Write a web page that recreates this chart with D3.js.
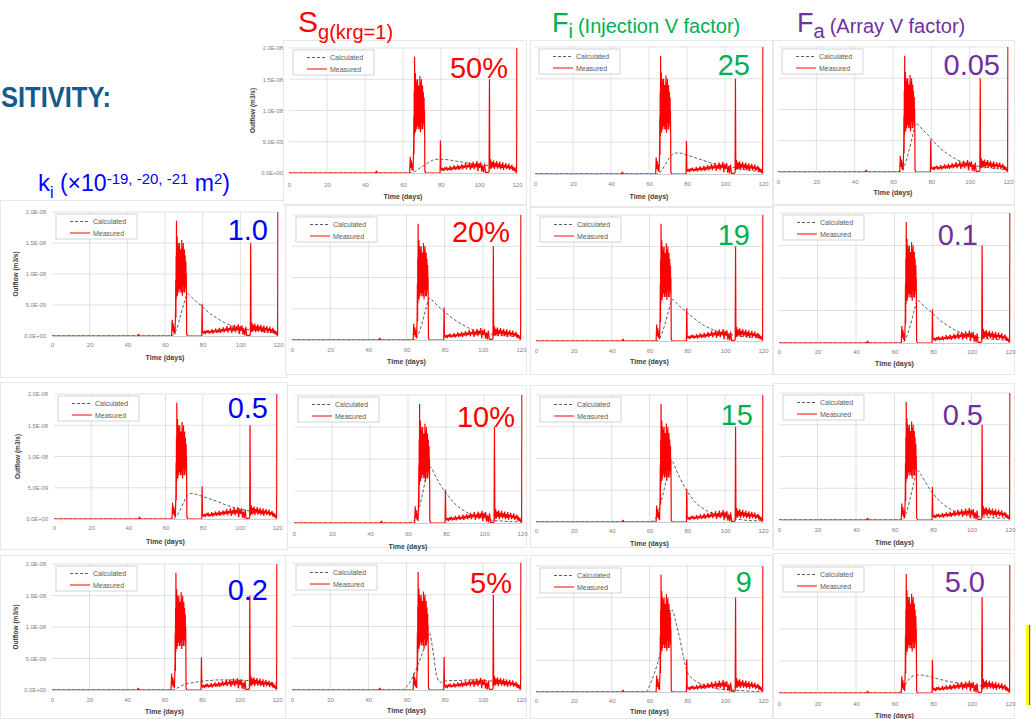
<!DOCTYPE html>
<html><head><meta charset="utf-8">
<script src="https://cdn.jsdelivr.net/npm/d3@7"></script>
<style>body{margin:0;background:#fff}svg{display:block;font-family:"Liberation Sans",Arial,sans-serif}</style>
</head><body><svg id="c" width="1032" height="719"></svg>
<script>
// ---------- DATA (flow in units of 1e-9 m3/s, time in days) ----------
const xTickValues = [0, 20, 40, 60, 80, 100, 120];
const xTickLabels = ["0", "20", "40", "60", "80", "100", "120"];
const yTickValues = [0, 5, 10, 15, 20];
const yTickLabels = ["0.0E+00", "5.0E-09", "1.0E-08", "1.5E-08", "2.0E-08"];
const seriesNames = ["Calculated", "Measured"];

const kiLabels = ["1.0", "0.5", "0.2"];
const sgLabels = ["50%", "20%", "10%", "5%"];
const fiLabels = ["25", "19", "15", "9"];
const faLabels = ["0.05", "0.1", "0.5", "5.0"];

const measured = [
 [0,0],[45.5,0],[46,0.3],[46.5,0],[63.5,0],[63.8,2.6],[64.1,0.8],[64.4,2.0],[64.7,0.5],[65.0,1.5],[65.3,0.3],
 [65.6,4],[65.7,9],[65.8,3],[65.9,13],[66.0,6],[66.1,18.6],[66.2,7],[66.3,14],[66.4,8],[66.5,16],[66.6,6.5],
 [66.7,13],[66.8,9],[66.9,15],[67.0,7],[67.1,12.5],[67.2,8],[67.3,14.5],[67.4,7.5],[67.5,13],[67.6,9.5],
 [67.7,15],[67.8,8],[67.9,12],[68.0,7],[68.1,14],[68.2,9],[68.3,13.5],[68.4,7.5],[68.5,12],[68.6,8.5],
 [68.7,14],[68.8,7],[68.9,15.5],[69.0,9],[69.1,13],[69.2,6.5],[69.3,14.5],[69.4,8],[69.5,12.5],[69.6,9.5],
 [69.7,15],[69.8,8],[69.9,13],[70.0,7],[70.1,12],[70.2,8.5],[70.3,14],[70.4,7],[70.5,12.5],[70.6,9],
 [70.7,13],[70.8,8],[70.9,11.5],[71.0,9],[71.1,12],[71.2,7.5],[71.3,10],[71.4,6],[71.5,0.3],[72,0],
 [79.5,0],[79.7,5.2],[79.9,0.9],[80.4,0.4],[80.9,0.8],[81.4,0.3],
 [81.9,0.9],[82.4,0.5],[82.9,1.0],[83.4,0.4],[83.9,0.8],[84.4,0.5],[84.9,1.1],[85.4,0.4],[85.9,0.9],[86.4,0.6],
 [86.9,1.2],[87.4,0.5],[87.9,1.0],[88.4,0.6],[88.9,1.3],[89.4,0.5],[89.9,1.1],[90.4,0.7],[90.9,1.4],[91.4,0.6],
 [91.9,1.2],[92.4,0.8],[92.9,1.6],[93.4,0.6],[93.9,1.3],[94.4,0.9],[94.9,1.7],[95.4,0.5],[95.9,1.4],[96.4,0.8],
 [96.9,1.8],[97.4,0.6],[97.9,1.5],[98.4,0.9],[98.9,1.9],[99.4,0.3],[99.9,1.6],[100.4,0.8],[100.9,1.7],[101.4,0.2],
 [101.9,1.2],[102.4,0.1],[102.9,1.5],[103.4,0.1],[104.9,0.1],[105.3,0.2],[105.5,15.0],[105.7,0.6],[106.1,2.2],
 [106.5,0.7],[106.9,1.8],[107.3,0.9],[107.7,2.0],[108.1,0.6],[108.5,1.6],[108.9,1.0],[109.3,1.9],[109.7,0.7],
 [110.1,1.5],[110.5,0.9],[110.9,1.8],[111.3,0.6],[111.7,1.4],[112.1,0.8],[112.5,1.7],[112.9,0.5],[113.3,1.3],
 [113.7,0.9],[114.1,1.6],[114.5,0.6],[114.9,1.2],[115.3,0.8],[115.7,1.5],[116.1,0.5],[116.5,1.1],[116.9,0.7],
 [117.3,1.3],[117.7,0.4],[118.1,1.0],[118.5,0.3],[118.9,0.8],[119.3,0.2],[119.8,0.1],[120,26]
];

const calcTime = [0,56,58,60,62,64,66,68,70,72,74,76,78,80,84,88,92,96,100,105,110,115,120];
const calcKi10 = [0,0,0,0,0,0.1,1,3,5.2,6.8,6.3,5.7,5.2,4.7,3.6,2.8,2.1,1.6,1.3,1.0,0.8,0.6,0.5];
const calcKi05 = [0,0,0,0,0,0,0.5,1.5,2.8,3.9,4.1,4.0,3.8,3.6,3.2,2.8,2.3,1.9,1.6,1.3,1.1,0.9,0.8];
const calcKi02 = [0,0,0,0,0,0,0.2,0.5,0.8,1.0,1.1,1.2,1.3,1.4,1.5,1.6,1.6,1.6,1.55,1.5,1.35,1.2,1.1];
const calcSg50 = [0,0,0,0,0,0,0.2,0.6,1.0,1.4,1.8,2.1,2.2,2.2,2.1,1.9,1.7,1.5,1.3,1.2,1.1,0.9,0.8];
const calcSg20 = [0,0,0,0,0,0,0.8,2.5,4.8,6.7,6.2,5.6,5.0,4.5,3.5,2.7,2.0,1.5,1.2,0.9,0.7,0.6,0.5];
const calcSg10 = [0,0,0,0,0.2,0.8,2.5,5.0,8.0,8.7,7.6,6.5,5.5,4.7,3.2,2.2,1.5,1.0,0.7,0.4,0.3,0.2,0.2];
const calcSg05 = [0,0,0,0.5,1.3,2.5,4.0,5.5,7.2,9.0,5.9,2.0,1.2,1.4,1.5,1.5,1.6,1.6,1.5,1.4,1.2,1.0,0.7];
const calcFi25 = [0,0,0,0,0,0,0.3,1.2,2.2,3.0,3.3,3.3,3.2,3.0,2.6,2.2,1.8,1.5,1.3,1.0,0.7,0.5,0.3];
const calcFi19 = [0,0,0,0,0,0,0.8,2.5,4.7,6.6,6.1,5.5,5.0,4.5,3.5,2.6,2.0,1.5,1.2,0.9,0.7,0.6,0.5];
const calcFi15 = [0,0,0,0,0.2,1.0,3.0,5.5,8.0,9.5,8.3,7.0,5.8,4.8,3.2,2.2,1.5,1.0,0.7,0.5,0.3,0.2,0.2];
const calcFi09 = [0,0,0,1.0,2.5,4.3,6.5,8.6,11.0,13.0,11.0,8.5,5.5,3.2,1.8,1.2,0.8,0.5,0.4,0.3,0.2,0.1,0.1];
const calcFa005 = [0,0,0,0,0,0,1.0,3.0,5.5,7.8,7.3,6.6,6.0,5.3,4.0,3.0,2.2,1.6,1.2,0.9,0.7,0.5,0.4];
const calcFa01 = [0,0,0,0,0,0,0.8,2.5,4.7,6.6,6.1,5.5,5.0,4.5,3.4,2.6,1.9,1.4,1.1,0.8,0.6,0.5,0.4];
const calcFa05 = [0,0,0,0,0,0,1.0,3.2,5.8,7.8,7.0,6.0,5.0,4.2,2.8,1.9,1.3,0.9,0.7,0.5,0.4,0.3,0.3];
const calcFa50 = [0,0,0,0,0,0.5,1.5,2.3,2.7,2.8,2.8,2.7,2.6,2.4,2.1,1.8,1.6,1.4,1.3,1.1,1.0,0.9,0.8];

// ---------- STYLE / LAYOUT ----------
const C_KI = "#0000ff", C_SG = "#ff0000", C_FI = "#00b050", C_FA = "#7030a0";
const panels = [
 {calc:calcKi10, lab:kiLabels[0], col:C_KI, L:52, R:278, T:212, B:336, xl:346, tl:358, yl:true, lx:268, ly:240, box:[0,200,288,378]},
 {calc:calcKi05, lab:kiLabels[1], col:C_KI, L:54, R:277, T:394, B:519, xl:529, tl:542, yl:true, lx:268, ly:418, box:[0,382,288,550]},
 {calc:calcKi02, lab:kiLabels[2], col:C_KI, L:52, R:277, T:564, B:690, xl:701, tl:712, yl:true, lx:268, ly:600, box:[0,555,288,719]},
 {calc:calcSg50, lab:sgLabels[0], col:C_SG, L:289, R:517, T:48, B:173, xl:186, tl:197, yl:true, lx:508, ly:78, box:[283,40,527,205]},
 {calc:calcSg20, lab:sgLabels[1], col:C_SG, L:292, R:521, T:215, B:340, xl:351, tl:362, yl:false, lx:510, ly:242, box:[285,205,527,375]},
 {calc:calcSg10, lab:sgLabels[2], col:C_SG, L:294, R:522, T:395, B:523, xl:535, tl:547, yl:false, lx:515, ly:427, box:[287,385,527,548]},
 {calc:calcSg05, lab:sgLabels[3], col:C_SG, L:292, R:521, T:563, B:690, xl:701, tl:711, yl:false, lx:512, ly:593, box:[285,555,527,719]},
 {calc:calcFi25, lab:fiLabels[0], col:C_FI, L:535, R:763, T:47, B:174, xl:185, tl:197, yl:false, lx:750, ly:75, box:[530,40,773,207]},
 {calc:calcFi19, lab:fiLabels[1], col:C_FI, L:536, R:763, T:215, B:341, xl:352, tl:362, yl:false, lx:750, ly:245, box:[530,207,773,375]},
 {calc:calcFi15, lab:fiLabels[2], col:C_FI, L:536, R:763, T:395, B:522, xl:532, tl:544, yl:false, lx:753, ly:425, box:[530,385,773,548]},
 {calc:calcFi09, lab:fiLabels[3], col:C_FI, L:536, R:763, T:566, B:692, xl:702, tl:712, yl:false, lx:752, ly:592, box:[530,555,773,719]},
 {calc:calcFa005, lab:faLabels[0], col:C_FA, L:778, R:1008, T:47, B:172, xl:183, tl:193, yl:false, lx:1000, ly:75, box:[773,40,1015,205]},
 {calc:calcFa01, lab:faLabels[1], col:C_FA, L:779, R:1010, T:213, B:343, xl:353, tl:364, yl:false, lx:978, ly:245, box:[773,205,1015,375]},
 {calc:calcFa05, lab:faLabels[2], col:C_FA, L:779, R:1010, T:393, B:520, xl:531, tl:543, yl:false, lx:983, ly:425, box:[773,383,1015,550]},
 {calc:calcFa50, lab:faLabels[3], col:C_FA, L:779, R:1010, T:565, B:693, xl:705, tl:716, yl:false, lx:985, ly:592, box:[773,553,1015,719]}
];

const svg = d3.select("#c");
svg.append("rect").attr("width",1032).attr("height",719).attr("fill","#fff");
const defs = svg.append("defs");

panels.forEach((p, i) => {
  const x = d3.scaleLinear().domain([0,120]).range([p.L,p.R]);
  const y = d3.scaleLinear().domain([0,20]).range([p.B,p.T]);
  const g = svg.append("g");
  const b = p.box;
  g.append("rect").attr("x",b[0]+0.5).attr("y",b[1]+0.5).attr("width",b[2]-b[0]-1).attr("height",b[3]-b[1]-1)
    .attr("fill","#fff").attr("stroke","#e3e3e3").attr("stroke-width",0.8);

  g.selectAll(".hg").data(yTickValues.slice(1)).join("line")
    .attr("x1",p.L).attr("x2",p.R).attr("y1",d=>y(d)).attr("y2",d=>y(d))
    .attr("stroke","#d9d9d9").attr("stroke-width",0.8);
  g.selectAll(".vg").data(xTickValues.slice(1)).join("line")
    .attr("x1",d=>x(d)).attr("x2",d=>x(d)).attr("y1",p.T).attr("y2",p.B)
    .attr("stroke","#d9d9d9").attr("stroke-width",0.8);

  const xa = g.append("g").attr("transform",`translate(0,${p.B})`)
    .call(d3.axisBottom(x).tickValues(xTickValues).tickFormat((d,k)=>xTickLabels[k]).tickSize(0).tickPadding(p.xl-p.B-3));
  xa.select(".domain").attr("stroke","#bfbfbf").attr("stroke-width",0.8);
  xa.selectAll("text").attr("font-size",6).attr("fill","#7f7f7f").attr("font-family","Liberation Sans, Arial, sans-serif");

  if (p.yl) {
    const ya = g.append("g").attr("transform",`translate(${p.L},0)`)
      .call(d3.axisLeft(y).tickValues(yTickValues).tickFormat((d,k)=>yTickLabels[k]).tickSize(0).tickPadding(6));
    ya.select(".domain").remove();
    ya.selectAll("text").attr("font-size",5.8).attr("fill","#7f7f7f").attr("font-family","Liberation Sans, Arial, sans-serif");
    g.append("text").attr("transform",`translate(${p.L-34},${(p.T+p.B)/2}) rotate(-90)`)
      .attr("text-anchor","middle").attr("font-size",6.5).attr("font-weight","bold").attr("fill","#404040")
      .text("Outflow (m3/s)");
  }
  g.append("text").attr("x",(p.L+p.R)/2).attr("y",p.tl+2).attr("text-anchor","middle")
    .attr("font-size",7).attr("font-weight","bold").attr("fill","#404040").text("Time (days)");

  const cid = "clip"+i;
  defs.append("clipPath").attr("id",cid).append("rect").attr("x",p.L).attr("y",p.T).attr("width",p.R-p.L+0.6).attr("height",p.B-p.T);
  const plot = g.append("g").attr("clip-path",`url(#${cid})`);

  const calcData = calcTime.map((t,k)=>[t,p.calc[k]]);
  plot.append("path").datum(calcData)
    .attr("d", d3.line().x(d=>x(d[0])).y(d=>y(d[1])).curve(d3.curveMonotoneX))
    .attr("fill","none").attr("stroke","#55605f").attr("stroke-width",1).attr("stroke-dasharray","3,2");
  plot.append("path").datum(measured)
    .attr("d", d3.line().x(d=>x(d[0])).y(d=>y(d[1])))
    .attr("fill","none").attr("stroke","#ff0000").attr("stroke-width",1.2).attr("stroke-linejoin","bevel");

  const lg = g.append("g").attr("transform",`translate(${p.L+4},${p.T+2})`);
  lg.append("rect").attr("width",81).attr("height",25).attr("fill","#fff").attr("stroke","#bfbfbf").attr("stroke-width",0.7);
  lg.append("line").attr("x1",14).attr("x2",34).attr("y1",7.5).attr("y2",7.5)
    .attr("stroke","#55605f").attr("stroke-dasharray","3,2").attr("stroke-width",1);
  lg.append("line").attr("x1",14).attr("x2",34).attr("y1",19).attr("y2",19)
    .attr("stroke","#ff0000").attr("stroke-width",1);
  lg.append("text").attr("x",37).attr("y",10).attr("font-size",7).attr("fill","#595959").text(seriesNames[0]);
  lg.append("text").attr("x",37).attr("y",21.5).attr("font-size",7).attr("fill","#595959").text(seriesNames[1]);

  g.append("text").attr("x",p.lx).attr("y",p.ly).attr("text-anchor","end")
    .attr("font-size",29).attr("fill",p.col).text(p.lab);
});

// ---------- headers ----------
svg.append("text").attr("x",1).attr("y",107).attr("font-size",30).attr("font-weight","bold")
  .attr("fill","#145a8a").attr("textLength",110).attr("lengthAdjust","spacingAndGlyphs").text("SITIVITY:");

const h1 = svg.append("text").attr("x",298).attr("y",32).attr("fill",C_SG);
h1.append("tspan").attr("font-size",30).text("S");
h1.append("tspan").attr("font-size",20).attr("dy",7).text("g(krg=1)");

const h2 = svg.append("text").attr("x",552).attr("y",32).attr("fill",C_FI);
h2.append("tspan").attr("font-size",27).text("F");
h2.append("tspan").attr("font-size",20).attr("dy",6).text("i");
h2.append("tspan").attr("font-size",20).attr("dy",-5).attr("dx",5).text("(Injection V factor)");

const h3 = svg.append("text").attr("x",797).attr("y",32).attr("fill",C_FA);
h3.append("tspan").attr("font-size",27).text("F");
h3.append("tspan").attr("font-size",20).attr("dy",6).text("a");
h3.append("tspan").attr("font-size",20).attr("dy",-5).attr("dx",5).text("(Array V factor)");

const h4 = svg.append("text").attr("x",38).attr("y",191).attr("fill",C_KI);
h4.append("tspan").attr("font-size",24).text("k");
h4.append("tspan").attr("font-size",16).attr("dy",7).text("i");
h4.append("tspan").attr("font-size",23).attr("dy",-7).text(" (×10");
h4.append("tspan").attr("font-size",15).attr("dy",-7).text("-19, -20, -21");
h4.append("tspan").attr("font-size",23).attr("dy",7).text(" m");
h4.append("tspan").attr("font-size",15).attr("dy",-7).text("2");
h4.append("tspan").attr("font-size",23).attr("dy",7).text(")");

svg.append("rect").attr("x",1026).attr("y",625).attr("width",3).attr("height",80).attr("fill","#ffff00");
svg.append("rect").attr("x",1029).attr("y",625).attr("width",1.2).attr("height",80).attr("fill","#666");
</script></body></html>
